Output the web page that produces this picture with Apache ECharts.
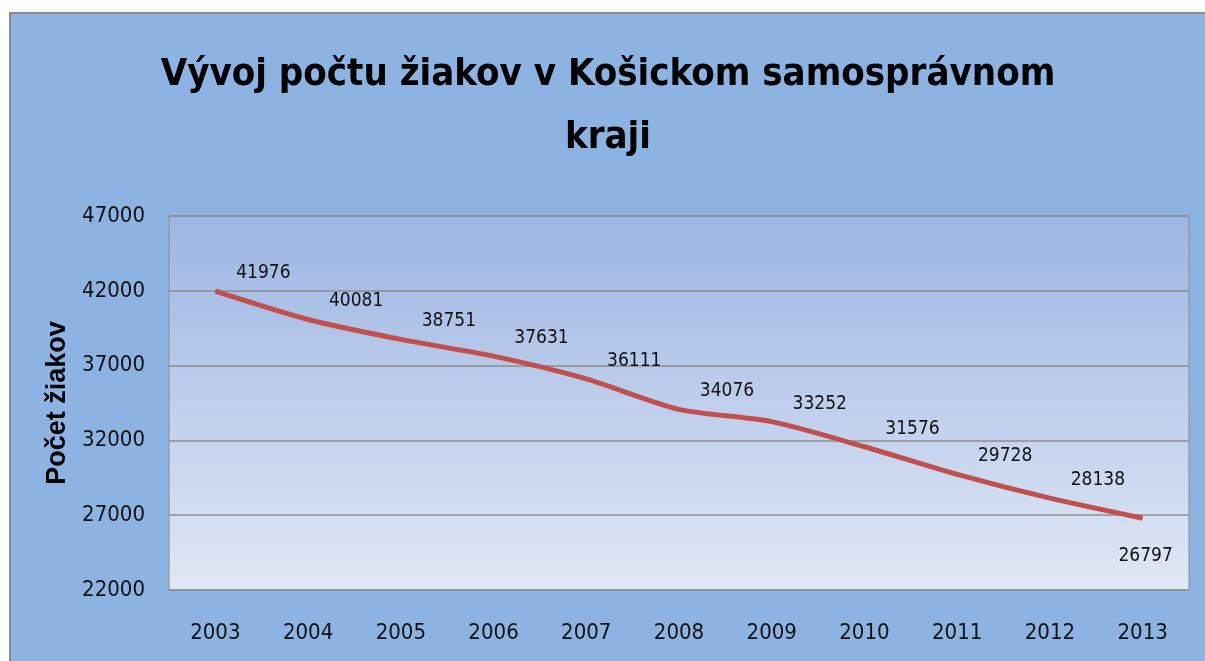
<!DOCTYPE html>
<html>
<head>
<meta charset="utf-8">
<script src="https://cdn.jsdelivr.net/npm/echarts@6/dist/echarts.min.js"></script>
<style>
  html, body { margin: 0; padding: 0; background: #fff; }
  #chart {
    position: absolute; left: 9px; top: 12px; right: 0; bottom: 0;
    border-top: 2px solid #8a8a8a; border-left: 2px solid #8a8a8a;
    background: #8db3e2;
  }
</style>
</head>
<body>
<div id="chart"></div>
<script>
  // data
  const years = ['2003', '2004', '2005', '2006', '2007', '2008', '2009', '2010', '2011', '2012', '2013']
  const students = [41976, 40081, 38751, 37631, 36111, 34076, 33252, 31576, 29728, 28138, 26797]
  const yMin = 22000
  const yMax = 47000
  const yStep = 5000

  const narrow = '"DejaVu Sans Condensed", "Liberation Sans", sans-serif'

  let chart = echarts.init(document.getElementById('chart'))

  // last label sits under the line, like in the original
  let seriesData = students.map(function (v, i) {
    if (i === students.length - 1) {
      return { value: v, label: { position: 'bottom', offset: [3, 23] } }
    }
    return v
  })

  chart.setOption({
    animation: false,
    title: {
      text: 'Vývoj počtu žiakov v Košickom samosprávnom\nkraji',
      left: 'center',
      top: 30,
      padding: [0, 0, 0, 16],
      textStyle: {
        fontFamily: narrow,
        fontWeight: 'bold',
        fontSize: 38,
        lineHeight: 63,
        color: '#000'
      }
    },
    grid: {
      left: 158,
      top: 202,
      width: 1020,
      height: 374,
      show: true,
      borderColor: '#8c8c8c',
      borderWidth: 1,
      backgroundColor: new echarts.graphic.LinearGradient(0, 0, 0, 1, [
        { offset: 0, color: '#9cb5e3' },
        { offset: 1, color: '#e1e8f5' }
      ])
    },
    xAxis: {
      type: 'category',
      data: years,
      boundaryGap: true,
      axisLine: { show: false },
      axisTick: { show: false },
      axisLabel: {
        margin: 32,
        fontFamily: narrow,
        fontSize: 22,
        color: '#111'
      }
    },
    yAxis: {
      type: 'value',
      min: yMin,
      max: yMax,
      interval: yStep,
      name: 'Počet žiakov',
      nameLocation: 'middle',
      nameRotate: 90,
      nameGap: 70,
      nameTextStyle: {
        fontFamily: '"Liberation Sans", sans-serif',
        fontWeight: 'bold',
        fontSize: 27,
        color: '#000'
      },
      axisLine: { show: false },
      axisTick: { show: false },
      splitLine: { lineStyle: { color: '#8c8c8c', width: 1.5 } },
      axisLabel: {
        margin: 24,
        fontFamily: narrow,
        fontSize: 22,
        color: '#111',
        formatter: function (v) { return String(v) }
      }
    },
    series: [{
      name: 'Počet žiakov',
      type: 'line',
      data: seriesData,
      smooth: 0.25,
      showSymbol: true,
      symbol: 'circle',
      symbolSize: 1,
      itemStyle: { color: 'rgba(0,0,0,0)' },
      lineStyle: { color: '#c0504d', width: 5 },
      label: {
        show: true,
        position: 'top',
        offset: [48, -3],
        fontFamily: narrow,
        fontSize: 19,
        color: '#111'
      }
    }]
  })
</script>
</body>
</html>
